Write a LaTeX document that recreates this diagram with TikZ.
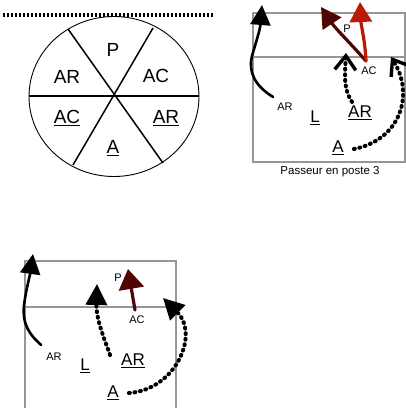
\documentclass[tikz,border=0pt]{standalone}
\usepackage{fontspec}
\setmainfont{Liberation Sans}
\usetikzlibrary{arrows.meta}
\definecolor{courtgray}{RGB}{150,150,150}
\definecolor{darkred}{RGB}{80,5,5}
\definecolor{brightred}{RGB}{185,25,5}
\begin{document}
\begin{tikzpicture}[x=1pt,y=-1pt,
  court/.style={draw=courtgray,line width=1.6},
  big/.style={font=\fontsize{19}{19}\selectfont,inner sep=0},
  mid/.style={font=\fontsize{17}{17}\selectfont,inner sep=0},
  small/.style={font=\fontsize{11}{11}\selectfont,inner sep=0},
  captext/.style={font=\fontsize{11.5}{11.5}\selectfont,inner sep=0},
  run/.style={line width=2.6,line cap=round,-{Triangle[length=20,width=20]}},
  redrun/.style={line width=3.2,line cap=round,-{Triangle[length=20,width=22]}},
  dotline/.style={line width=4,line cap=round,dash pattern=on 1pt off 4.6pt},
  dotrun/.style={dotline,-{Triangle[length=21,width=21]}},
  chevrun/.style={dotline,-{Straight Barb[length=14,width=21,line width=3.4]}},
 ]
\useasboundingbox (0,0) rectangle (406,408);

% ---- circle diagram ----
\draw[line width=3.4,dash pattern=on 2.4pt off 1.6pt] (3,15) -- (214,15);
\draw[line width=0.9] (114,96.5) ellipse [x radius=85, y radius=80];
\draw[line width=1.5] (29,96) -- (199,96);
\draw[line width=1.5] (68,29) -- (163,163);
\draw[line width=1.5] (153,28) -- (73,165);
\node[big] (cP) at (113,50) {P};
\node[big] (cAR) at (67,77) {AR};
\node[big] (cAC) at (156,76) {AC};
\node[big] (cACu) at (67,118) {\underline{AC}};
\node[big] (cARu) at (166,118) {\underline{AR}};
\node[big] (cAu) at (113,148) {\underline{A}};

% ---- top-right court ----
\draw[court] (253,13) rectangle (405,162);
\draw[court] (253,57) -- (405,57);
\node[captext] (cap1) at (330,172) {Passeur en poste 3};
\node[small] (tAR) at (285,107) {AR};
\node[mid] (tL) at (315,118) {\underline{L}};
\node[mid] (tARu) at (360,113) {\underline{AR}};
\node[mid] (tAu) at (338,148) {\underline{A}};
\node[small] (tP) at (347,29) {P};
\node[small] (tAC) at (369,71) {AC};
\coordinate (tb1) at (262,5);
\coordinate (tr0) at (366,61);
\coordinate (tr1) at (321,7);
\coordinate (tr2) at (360,2);
\coordinate (td1) at (346,53);
\coordinate (td2) at (391,57);
\draw[run] (tAR.north west) ++(-4,-6) .. controls (255,86) and (248,72) .. (252,56) .. controls (256,42) and (260,30) .. (tb1);
\draw[redrun,draw=darkred,fill=darkred] (tr0) .. controls (352,45) and (335,28) .. (tr1);
\draw[redrun,brightred] (tr0) .. controls (365,40) and (361,25) .. (tr2);
\draw[chevrun] (tARu.north) ++(-8,-4) .. controls (343,88) and (345,75) .. (td1);
\draw[chevrun] (tAu.east) ++(10,1) .. controls (400,140) and (415,95) .. (td2);

% ---- bottom-left court ----
\draw[court] (25,415) -- (25,261) -- (176,261) -- (176,415);
\draw[court] (25,307) -- (176,307);
\node[small] (bAR) at (54,357) {AR};
\node[mid] (bL) at (85,366) {\underline{L}};
\node[mid] (bARu) at (133,361) {\underline{AR}};
\node[mid] (bAu) at (113,393) {\underline{A}};
\node[small] (bP) at (118,278) {P};
\node[small] (bAC) at (137,320) {AC};
\coordinate (bb1) at (33,254);
\coordinate (bd1) at (97,284);
\coordinate (br0) at (135,310);
\coordinate (br1) at (128,269);
\coordinate (bd2) at (163,298);
\draw[run] (bAR.north west) ++(-5,-8) .. controls (30,335) and (22,325) .. (24,305) .. controls (26,290) and (30,275) .. (bb1);
\draw[dotrun] (bARu.west) ++(-11,-6) .. controls (105,340) and (96,320) .. (bd1);
\draw[redrun,draw=darkred,fill=darkred,-{Triangle[length=20,width=25]}] (br0) -- (br1);
\draw[dotrun] (bAu.east) ++(10,0) .. controls (175,390) and (200,335) .. (bd2);
\end{tikzpicture}
\end{document}
